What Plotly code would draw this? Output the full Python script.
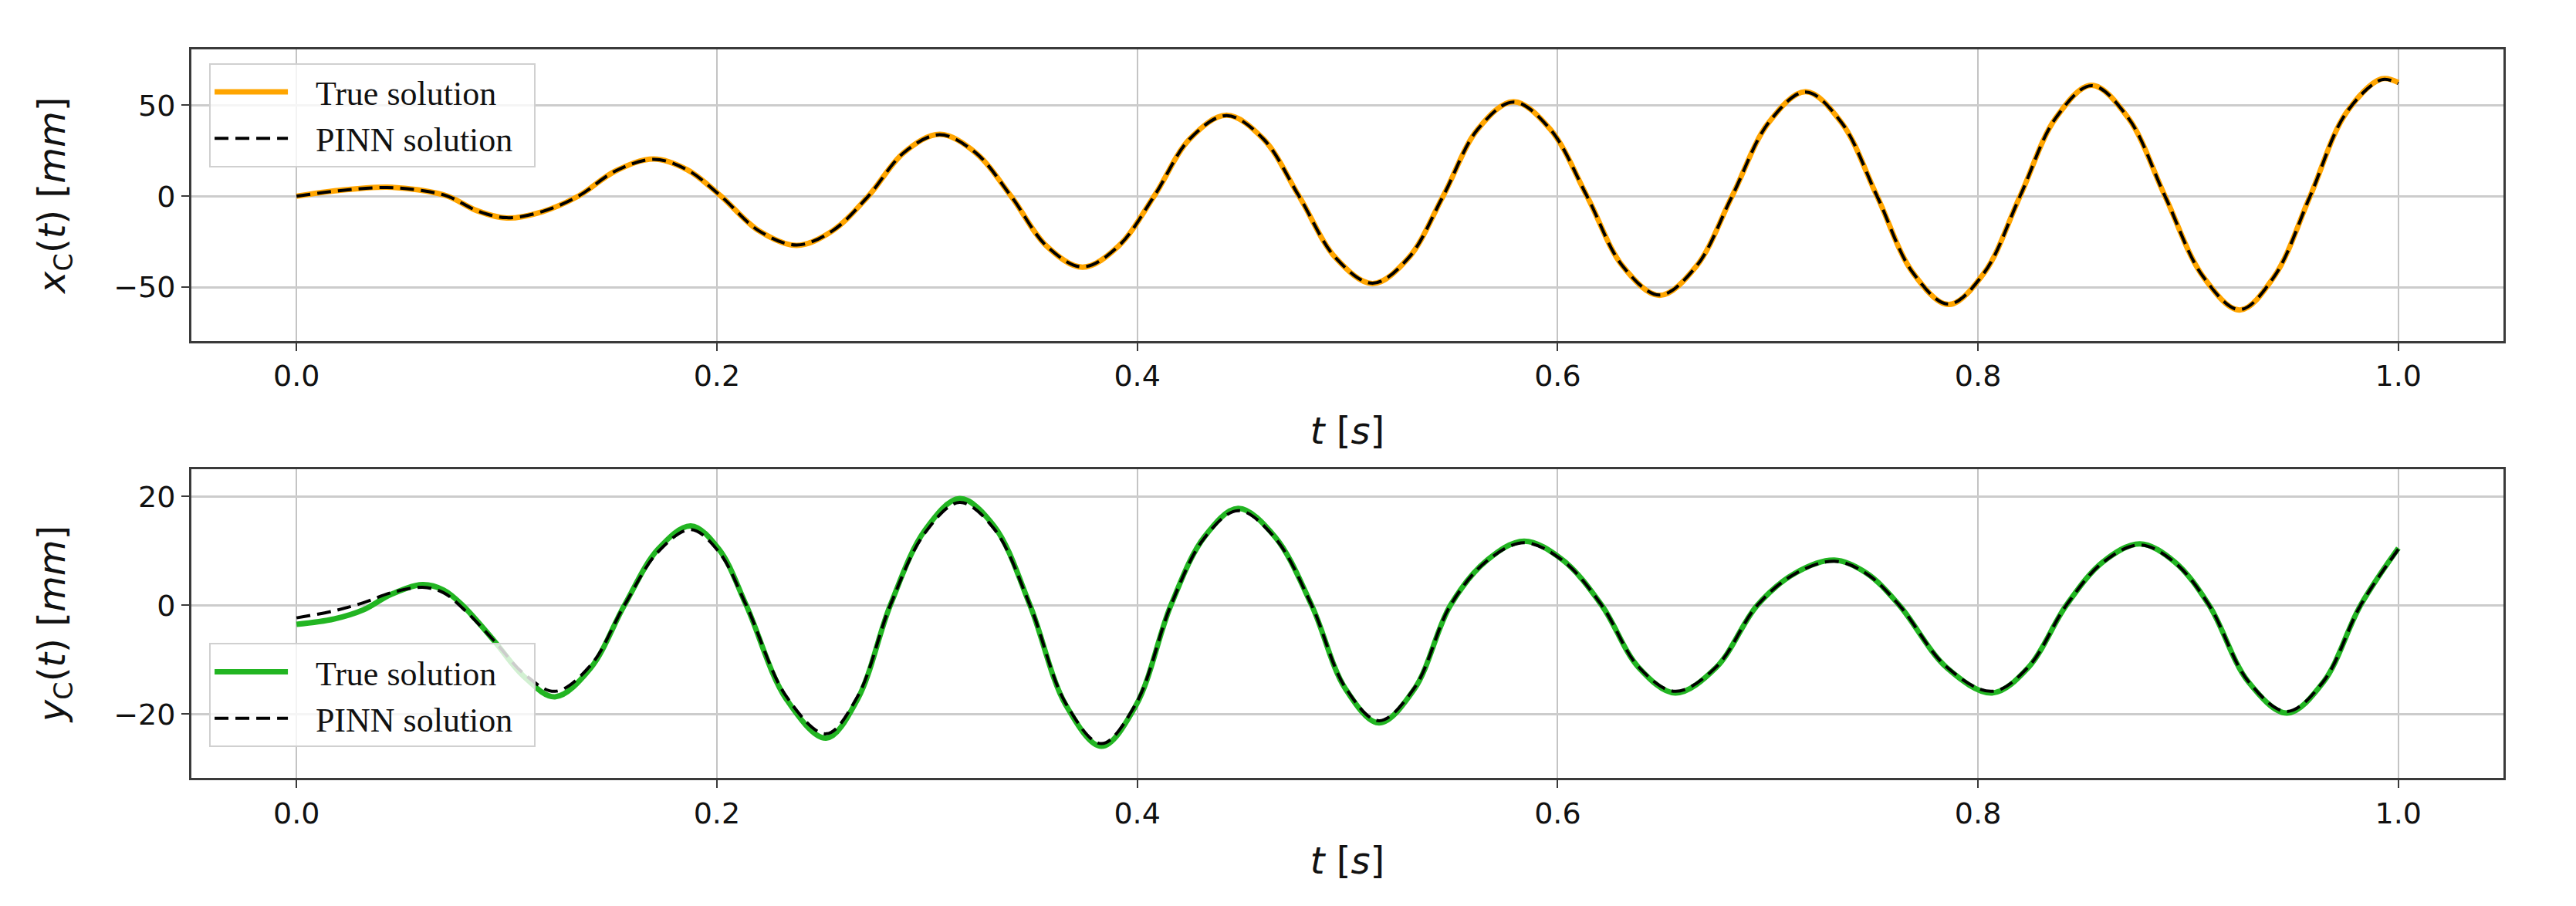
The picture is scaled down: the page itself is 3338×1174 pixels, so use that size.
import plotly.graph_objects as go

# ---------------- data ----------------
t_x = [0.000, 0.020, 0.043, 0.058, 0.072, 0.086, 0.100, 0.117, 0.134, 0.152,
       0.170, 0.186, 0.202, 0.220, 0.238, 0.255, 0.272, 0.289, 0.306, 0.323,
       0.340, 0.357, 0.374, 0.391, 0.408, 0.425, 0.4425, 0.460, 0.477, 0.4945,
       0.512, 0.529, 0.5455, 0.562, 0.579, 0.5965, 0.614, 0.631, 0.6485, 0.666,
       0.683, 0.7005, 0.718, 0.735, 0.752, 0.769, 0.786, 0.803, 0.820, 0.837,
       0.854, 0.8715, 0.889, 0.907, 0.9245, 0.941, 0.958, 0.975, 0.992, 1.000]
x_true = [0.0, 3.2, 5.0, 3.5, 0.0, -8.0, -12.0, -8.5, 0.0, 14.0,
          20.5, 14.5, 0.0, -19.0, -27.0, -19.0, 0.0, 24.0, 34.0, 24.0,
          0.0, -27.5, -39.0, -27.5, 0.0, 31.5, 44.5, 31.5, 0.0, -34.0,
          -48.0, -34.0, 0.0, 36.8, 52.0, 36.8, 0.0, -38.5, -54.5, -38.5,
          0.0, 40.6, 57.5, 40.6, 0.0, -42.0, -59.5, -42.0, 0.0, 43.0,
          61.0, 43.0, 0.0, -44.0, -62.5, -44.0, 0.0, 45.5, 64.5, 62.5]
x_pinn = [0.0, 3.0, 4.8, 3.4, 0.0, -8.0, -11.8, -8.4, 0.0, 14.0,
          20.3, 14.4, 0.0, -19.0, -26.8, -19.0, 0.0, 24.0, 33.8, 24.0,
          0.0, -27.5, -38.8, -27.5, 0.0, 31.5, 44.3, 31.5, 0.0, -34.0,
          -47.8, -34.0, 0.0, 36.8, 51.8, 36.8, 0.0, -38.5, -54.3, -38.5,
          0.0, 40.6, 57.3, 40.6, 0.0, -42.0, -59.3, -42.0, 0.0, 43.0,
          60.8, 43.0, 0.0, -44.0, -62.3, -44.0, 0.0, 45.5, 64.0, 62.0]

t_y = [0.000, 0.018, 0.032, 0.045, 0.060, 0.070, 0.079, 0.094, 0.108, 0.123,
       0.140, 0.156, 0.172, 0.1876, 0.201, 0.214, 0.233, 0.252, 0.267, 0.2825,
       0.299, 0.3155, 0.332, 0.349, 0.366, 0.383, 0.3995, 0.416, 0.432, 0.448,
       0.4655, 0.483, 0.499, 0.515, 0.532, 0.549, 0.5665, 0.584, 0.6025, 0.621,
       0.6385, 0.656, 0.6755, 0.695, 0.713, 0.7317, 0.747, 0.7626, 0.785, 0.8067,
       0.824, 0.842, 0.8595, 0.877, 0.8935, 0.910, 0.9285, 0.947, 0.9645, 0.982,
       1.000]
y_true = [-3.5, -2.5, -0.8, 2.0, 3.8, 2.8, 0.0, -6.5, -13.0, -16.8,
          -11.5, 0.0, 10.3, 14.6, 10.3, 0.0, -17.2, -24.4, -17.2, 0.0,
          13.8, 19.6, 14.5, 0.0, -18.3, -25.9, -18.3, 0.0, 12.6, 17.8,
          12.6, 0.0, -15.3, -21.6, -15.3, 0.0, 8.3, 11.8, 8.3, 0.0,
          -11.4, -16.1, -11.4, 0.0, 5.9, 8.3, 5.9, 0.0, -11.4, -16.1,
          -11.4, 0.0, 8.0, 11.3, 8.0, 0.0, -14.0, -19.8, -14.0, 0.0,
          10.5]
y_pinn = [-2.3, -1.0, 0.5, 2.3, 3.3, 2.3, -0.5, -6.5, -12.5, -15.8,
          -11.0, 0.0, 9.8, 13.9, 9.8, 0.0, -16.7, -23.6, -16.7, 0.0,
          13.3, 18.9, 14.0, 0.0, -18.0, -25.4, -18.0, 0.0, 12.4, 17.4,
          12.4, 0.0, -15.1, -21.2, -15.1, 0.0, 8.2, 11.5, 8.2, 0.0,
          -11.3, -15.8, -11.3, 0.0, 5.8, 8.1, 5.8, 0.0, -11.3, -15.8,
          -11.3, 0.0, 7.9, 11.1, 7.9, 0.0, -13.9, -19.5, -13.9, 0.0,
          10.3]

x_ticks = [0.0, 0.2, 0.4, 0.6, 0.8, 1.0]
x_ticklabels = ["0.0", "0.2", "0.4", "0.6", "0.8", "1.0"]
top_ticks = [-50, 0, 50]
top_ticklabels = ["\u221250", "0", "50"]
bot_ticks = [-20, 0, 20]
bot_ticklabels = ["\u221220", "0", "20"]

series_names = ["True solution", "PINN solution"]

# ---------------- styles ----------------
ORANGE = "#FFA500"
GREEN = "#22B522"
TICK_FONT = dict(family="DejaVu Sans", size=38, color="#111111")
TITLE_FONT = dict(family="DejaVu Sans", size=48, color="#111111")
LEG_FONT = dict(family="Liberation Serif", size=44, color="#111111")
LEG_GAP = "\u2002\u2009"   # gap between legend line sample and its label
LEG_PAD = "\u2002"         # right padding inside the legend box


def leg(name):
    return LEG_GAP + name + LEG_PAD


fig = go.Figure()

fig.add_trace(go.Scatter(x=t_x, y=x_true, mode="lines", name=leg(series_names[0]),
                         line=dict(color=ORANGE, width=7, shape="spline", smoothing=1.0),
                         xaxis="x", yaxis="y", legend="legend"))
fig.add_trace(go.Scatter(x=t_x, y=x_pinn, mode="lines", name=leg(series_names[1]),
                         line=dict(color="black", width=4, dash="18px,9px", shape="spline", smoothing=1.0),
                         xaxis="x", yaxis="y", legend="legend"))
fig.add_trace(go.Scatter(x=t_y, y=y_true, mode="lines", name=leg(series_names[0]),
                         line=dict(color=GREEN, width=7, shape="spline", smoothing=1.0),
                         xaxis="x2", yaxis="y2", legend="legend2"))
fig.add_trace(go.Scatter(x=t_y, y=y_pinn, mode="lines", name=leg(series_names[1]),
                         line=dict(color="black", width=4, dash="18px,9px", shape="spline", smoothing=1.0),
                         xaxis="x2", yaxis="y2", legend="legend2"))

axis_common = dict(
    showline=True, mirror=True, linecolor="#3a3a3a", linewidth=3,
    ticks="outside", ticklen=10, tickwidth=2, tickcolor="#3a3a3a",
    showgrid=True, zeroline=False, tickfont=TICK_FONT, automargin=False,
)

xcommon = dict(axis_common, range=[-0.05, 1.05], tickvals=x_ticks, ticktext=x_ticklabels,
               gridcolor="#c4c4c4", gridwidth=1.5)

legend_common = dict(xanchor="left", bgcolor="rgba(255,255,255,0.8)", bordercolor="#d0d0d0",
                     borderwidth=2, font=LEG_FONT, itemwidth=95, tracegroupgap=0)

fig.update_layout(
    width=3338, height=1174,
    margin=dict(l=240, r=102, t=56, b=174),
    paper_bgcolor="white", plot_bgcolor="white",
    showlegend=True,
    xaxis=dict(xcommon, domain=[0, 1], anchor="y",
               title=dict(text="<i>t</i> [<i>s</i>]", font=TITLE_FONT, standoff=34)),
    yaxis=dict(axis_common, domain=[0.6001, 1.0], anchor="x", range=[-79.4, 80.7],
               tickvals=top_ticks, ticktext=top_ticklabels, gridcolor="#cccccc", gridwidth=3,
               title=dict(text="<i>x</i><sub>C</sub>(<i>t</i>) [<i>mm</i>]", font=TITLE_FONT, standoff=48)),
    xaxis2=dict(xcommon, domain=[0, 1], anchor="y2",
                title=dict(text="<i>t</i> [<i>s</i>]", font=TITLE_FONT, standoff=24)),
    yaxis2=dict(axis_common, domain=[0.0, 0.4237], anchor="x2", range=[-31.7, 25.0],
                tickvals=bot_ticks, ticktext=bot_ticklabels, gridcolor="#cccccc", gridwidth=3,
                title=dict(text="<i>y</i><sub>C</sub>(<i>t</i>) [<i>mm</i>]", font=TITLE_FONT, standoff=48)),
    legend=dict(legend_common, x=0.0077, y=0.981, yanchor="top"),
    legend2=dict(legend_common, x=0.0077, y=0.042, yanchor="bottom"),
)

fig.write_html("out.html")
